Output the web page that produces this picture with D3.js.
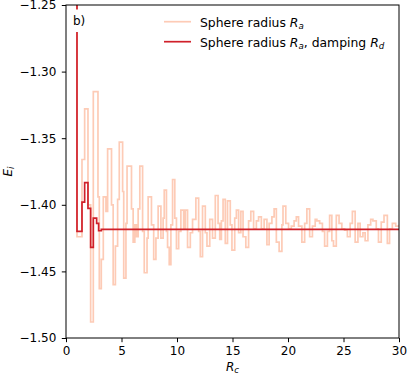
<!DOCTYPE html>
<html>
<head>
  <meta charset="utf-8">
  <script src="https://d3js.org/d3.v7.min.js"></script>
  <style>
    body { margin: 0; background: #fff; }
    text { font-family: "DejaVu Sans", sans-serif; }
  </style>
</head>
<body>
  <div id="chart"></div>
  <script>
  // axis ticks
  var xTicks = [0, 5, 10, 15, 20, 25, 30];
  var yTicks = [-1.50, -1.45, -1.40, -1.35, -1.30, -1.25];

  // sphere radius R_a (undamped), step start positions and values
  var rUndamped = [0.9, 0.99, 1.44, 1.68, 1.98, 2.22, 2.46, 2.88, 3.0, 3.18, 3.36, 3.6, 3.75, 4.1, 4.25, 4.45, 4.65, 4.8, 5.1, 5.2,
    5.4, 5.5, 5.9, 6.05, 6.2, 6.35, 6.5, 6.65, 6.9, 7.05, 7.3, 7.4, 7.7, 7.9, 8.1, 8.3, 8.55, 8.75, 8.85, 9.05,
    9.15, 9.3, 9.45, 9.6, 9.8, 9.95, 10.15, 10.35, 10.6, 10.75, 10.95, 11.2, 11.4, 11.7, 11.95, 12.1, 12.3, 12.55, 12.7, 12.95,
    13.2, 13.45, 13.7, 13.85, 14.0, 14.15, 14.35, 14.55, 14.8, 14.95, 15.2, 15.35, 15.55, 15.75, 15.95, 16.2, 16.45, 16.65, 16.9, 17.15,
    17.35, 17.6, 17.85, 18.1, 18.3, 18.55, 18.75, 18.95, 19.2, 19.45, 19.55, 19.8, 20.05, 20.3, 20.55, 20.75, 20.95, 21.25, 21.5, 21.7,
    21.95, 22.2, 22.45, 22.6, 22.85, 23.1, 23.3, 23.55, 23.75, 23.95, 24.1, 24.35, 24.6, 24.85, 25.1, 25.35, 25.6, 25.8, 26.05, 26.3,
    26.5, 26.75, 26.95, 27.2, 27.45, 27.65, 27.95, 28.15, 28.4, 28.65, 28.95, 29.15, 29.4, 29.7, 30.0];
  var eUndamped = [-1.0, -1.424, -1.366, -1.328, -1.400, -1.488, -1.315, -1.394, -1.463, -1.441, -1.394, -1.405, -1.358, -1.400, -1.460, -1.431, -1.396, -1.353, -1.390, -1.455,
    -1.414, -1.371, -1.403, -1.428, -1.415, -1.424, -1.403, -1.371, -1.420, -1.451, -1.425, -1.394, -1.415, -1.441, -1.425, -1.401, -1.425, -1.410, -1.389, -1.420,
    -1.432, -1.445, -1.415, -1.381, -1.410, -1.433, -1.420, -1.404, -1.418, -1.404, -1.432, -1.421, -1.411, -1.395, -1.420, -1.439, -1.401, -1.421, -1.431, -1.411,
    -1.425, -1.393, -1.414, -1.426, -1.412, -1.396, -1.429, -1.397, -1.415, -1.434, -1.410, -1.404, -1.421, -1.405, -1.424, -1.432, -1.412, -1.405, -1.418, -1.412,
    -1.409, -1.418, -1.411, -1.430, -1.414, -1.409, -1.403, -1.428, -1.435, -1.415, -1.401, -1.414, -1.418, -1.416, -1.412, -1.409, -1.416, -1.428, -1.414, -1.403,
    -1.424, -1.416, -1.411, -1.412, -1.414, -1.420, -1.431, -1.420, -1.408, -1.427, -1.431, -1.408, -1.414, -1.418, -1.419, -1.424, -1.414, -1.405, -1.428, -1.414,
    -1.424, -1.421, -1.427, -1.415, -1.411, -1.412, -1.418, -1.428, -1.413, -1.408, -1.429, -1.418, -1.414, -1.416, -1.415];

  // sphere radius R_a with damping R_d
  var rDamped = [0.9, 0.99, 1.44, 1.68, 1.98, 2.22, 2.46, 2.76, 2.94, 3.18, 30.0];
  var eDamped = [-1.0, -1.420, -1.398, -1.3834, -1.4027, -1.432, -1.410, -1.414, -1.4195, -1.4184, -1.4184];

  var lightColor = "#fdcbb6", darkColor = "#d0202a";

  var margin = {top: 5, right: 8, bottom: 38, left: 66},
      width = 333,
      height = 333;

  var svg = d3.select("#chart")
    .append("svg")
      .attr("width", 407)
      .attr("height", 376)
    .append("g")
      .attr("transform", "translate(" + margin.left + "," + margin.top + ")");

  var x = d3.scaleLinear().domain([0, 30]).range([0, width]);
  var y = d3.scaleLinear().domain([-1.50, -1.25]).range([height, 0]);

  svg.append("defs").append("clipPath").attr("id", "clip")
    .append("rect").attr("width", width).attr("height", height);

  var line = d3.line()
    .curve(d3.curveStepAfter)
    .x(function(d) { return x(d[0]); })
    .y(function(d) { return y(d[1]); });

  var plot = svg.append("g").attr("clip-path", "url(#clip)");

  plot.append("path")
    .datum(d3.zip(rUndamped, eUndamped))
    .attr("fill", "none")
    .attr("stroke", lightColor)
    .attr("stroke-width", 1.7)
    .attr("d", line);

  plot.append("path")
    .datum(d3.zip(rDamped, eDamped))
    .attr("fill", "none")
    .attr("stroke", darkColor)
    .attr("stroke-width", 1.7)
    .attr("d", line);

  // axes
  var fmt = function(d) { return d3.format(".2f")(d).replace("-", "\u2212"); };
  var xAxis = svg.append("g")
    .attr("transform", "translate(0," + height + ")")
    .call(d3.axisBottom(x).tickValues(xTicks).tickSize(4.2).tickPadding(4));
  var yAxis = svg.append("g")
    .call(d3.axisLeft(y).tickValues(yTicks).tickSize(4.2).tickPadding(5.5).tickFormat(fmt));
  [xAxis, yAxis].forEach(function(a) {
    a.select(".domain").remove();
    a.selectAll("line").attr("stroke", "#000").attr("stroke-width", 1);
    a.selectAll("text").attr("fill", "#000").style("font-size", "12px")
      .style("font-family", "DejaVu Sans, sans-serif");
  });

  // frame
  svg.append("rect")
    .attr("width", width).attr("height", height)
    .attr("fill", "none").attr("stroke", "#000").attr("stroke-width", 1);

  // panel label with white box
  svg.append("rect")
    .attr("x", 4).attr("y", 4.5).attr("width", 18).attr("height", 22.5)
    .attr("fill", "#fff");
  svg.append("text")
    .attr("x", 7).attr("y", 20)
    .style("font-size", "12px")
    .text("b)");

  // legend
  var legend = svg.append("g").attr("transform", "translate(98,0)");
  legend.append("line").attr("x1", 0).attr("x2", 27).attr("y1", 16.7).attr("y2", 16.7)
    .attr("stroke", lightColor).attr("stroke-width", 1.7);
  legend.append("line").attr("x1", 0).attr("x2", 27).attr("y1", 36.7).attr("y2", 36.7)
    .attr("stroke", darkColor).attr("stroke-width", 1.7);

  var l1 = legend.append("text").attr("x", 36).attr("y", 21.5).style("font-size", "12.4px");
  l1.append("tspan").text("Sphere radius ");
  l1.append("tspan").style("font-style", "italic").text("R");
  l1.append("tspan").style("font-style", "italic").style("font-size", "8.7px").attr("dy", 2.2).text("a");

  var l2 = legend.append("text").attr("x", 36).attr("y", 41.5).style("font-size", "12.4px");
  l2.append("tspan").text("Sphere radius ");
  l2.append("tspan").style("font-style", "italic").text("R");
  l2.append("tspan").style("font-style", "italic").style("font-size", "8.7px").attr("dy", 2.2).text("a");
  l2.append("tspan").attr("dy", -2.2).text(", damping ");
  l2.append("tspan").style("font-style", "italic").text("R");
  l2.append("tspan").style("font-style", "italic").style("font-size", "8.7px").attr("dy", 2.2).text("d");

  // axis labels
  var xl = svg.append("text")
    .attr("text-anchor", "middle")
    .attr("x", width / 2)
    .attr("y", height + 33)
    .style("font-size", "12px");
  xl.append("tspan").style("font-style", "italic").text("R");
  xl.append("tspan").style("font-style", "italic").style("font-size", "8.5px").attr("dy", 2.2).text("c");

  var yl = svg.append("text")
    .attr("text-anchor", "middle")
    .attr("transform", "translate(-54," + (height / 2) + ") rotate(-90)")
    .style("font-size", "12px");
  yl.append("tspan").style("font-style", "italic").text("E");
  yl.append("tspan").style("font-style", "italic").style("font-size", "8.5px").attr("dy", 2.2).text("i");
  </script>
</body>
</html>
